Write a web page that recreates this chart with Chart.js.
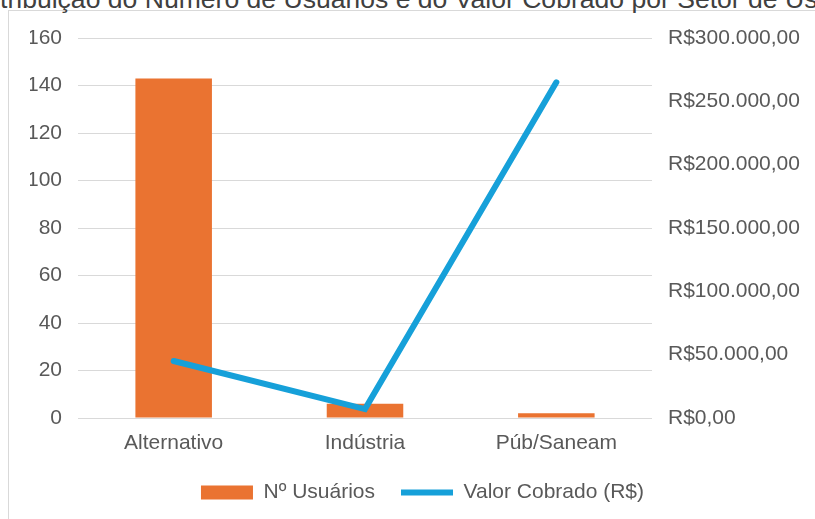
<!DOCTYPE html>
<html>
<head>
<meta charset="utf-8">
<script src="https://cdn.jsdelivr.net/npm/chart.js@4"></script>
<style>
  html, body { margin: 0; padding: 0; background: #fff; overflow: hidden; }
  body { width: 815px; height: 519px; position: relative; font-family: "Liberation Sans", Arial, sans-serif; }
  .frame { position: absolute; left: 8px; top: 10px; width: 1000px; height: 700px; border: 1px solid #D9D9D9; }
  .title { position: absolute; white-space: nowrap; color: #404040; }
  #chart { position: absolute; left: 0; top: 0; }
</style>
</head>
<body>
<div class="frame"></div>
<div class="title" id="title">Distribuição do Número de Usuários e do Valor Cobrado por Setor de Uso</div>
<canvas id="chart" width="815" height="519" style="width:815px;height:519px"></canvas>
<script>
// valores
var setores = ['Alternativo', 'Indústria', 'Púb/Saneam'];
var usuarios = [143, 6, 2];
var valorCobrado = [45000, 7000, 265000];

var LARANJA = '#EA7331';
var AZUL = '#16A0D9';
var CINZA = '#595959';

// título cortado no topo e à esquerda, como no original
var titulo = document.getElementById('title');
var tctx = document.createElement('canvas').getContext('2d');
tctx.font = '10px "Liberation Sans"';
var tam = 10 * 818 / tctx.measureText('tribuição do Número de Usuários e do Valor Cobrado por Setor de Us').width;
tctx.font = tam + 'px "Liberation Sans"';
titulo.style.fontSize = tam + 'px';
titulo.style.lineHeight = tam + 'px';
titulo.style.left = (-tctx.measureText('Dis').width) + 'px';
titulo.style.top = (8 - 0.83 * tam) + 'px';

function formatReal(v) {
    var inteiro = Math.round(v).toString().replace(/\B(?=(\d{3})+(?!\d))/g, '.');
    return 'R$' + inteiro + ',00';
}

Chart.defaults.font.family = '"Liberation Sans", Arial, sans-serif';
Chart.defaults.font.size = 21;
Chart.defaults.color = CINZA;

var ctx = document.getElementById('chart').getContext('2d');
var chart = new Chart(ctx, {
    data: {
        labels: setores,
        datasets: [{
            type: 'bar',
            label: 'Nº Usuários',
            data: usuarios,
            backgroundColor: LARANJA,
            borderWidth: 0,
            barPercentage: 0.4,
            categoryPercentage: 1,
            yAxisID: 'y',
            pointStyle: 'rect',
            order: 1
        }, {
            type: 'line',
            label: 'Valor Cobrado (R$)',
            data: valorCobrado,
            borderColor: AZUL,
            backgroundColor: AZUL,
            borderWidth: 6,
            borderCapStyle: 'round',
            borderJoinStyle: 'miter',
            pointRadius: 0,
            pointHoverRadius: 0,
            pointStyle: 'line',
            tension: 0,
            yAxisID: 'y1',
            order: 0
        }]
    },
    options: {
        responsive: false,
        animation: false,
        layout: { padding: { top: 38, bottom: 6, left: 30, right: 0 } },
        plugins: {
            tooltip: { enabled: false },
            legend: {
                position: 'bottom',
                labels: {
                    usePointStyle: true,
                    pointStyleWidth: 52,
                    boxHeight: 14,
                    padding: 26,
                    color: CINZA,
                    sort: function(a, b) { return a.datasetIndex - b.datasetIndex; }
                }
            }
        },
        scales: {
            x: {
                grid: { display: false, drawTicks: false },
                border: { display: false },
                ticks: { padding: 13 },
                afterFit: function(scale) { scale.height = 38; }
            },
            y: {
                position: 'left',
                min: 0,
                max: 160,
                ticks: { stepSize: 20, padding: 16 },
                grid: { color: '#D9D9D9', drawTicks: false },
                border: { display: false },
                afterFit: function(scale) { scale.width = 48; }
            },
            y1: {
                position: 'right',
                min: 0,
                max: 300000,
                ticks: { stepSize: 50000, padding: 16, callback: function(v) { return formatReal(v); } },
                grid: { display: false, drawTicks: false },
                border: { display: false },
                afterFit: function(scale) { scale.width = 163; }
            }
        }
    }
});
</script>
</body>
</html>
